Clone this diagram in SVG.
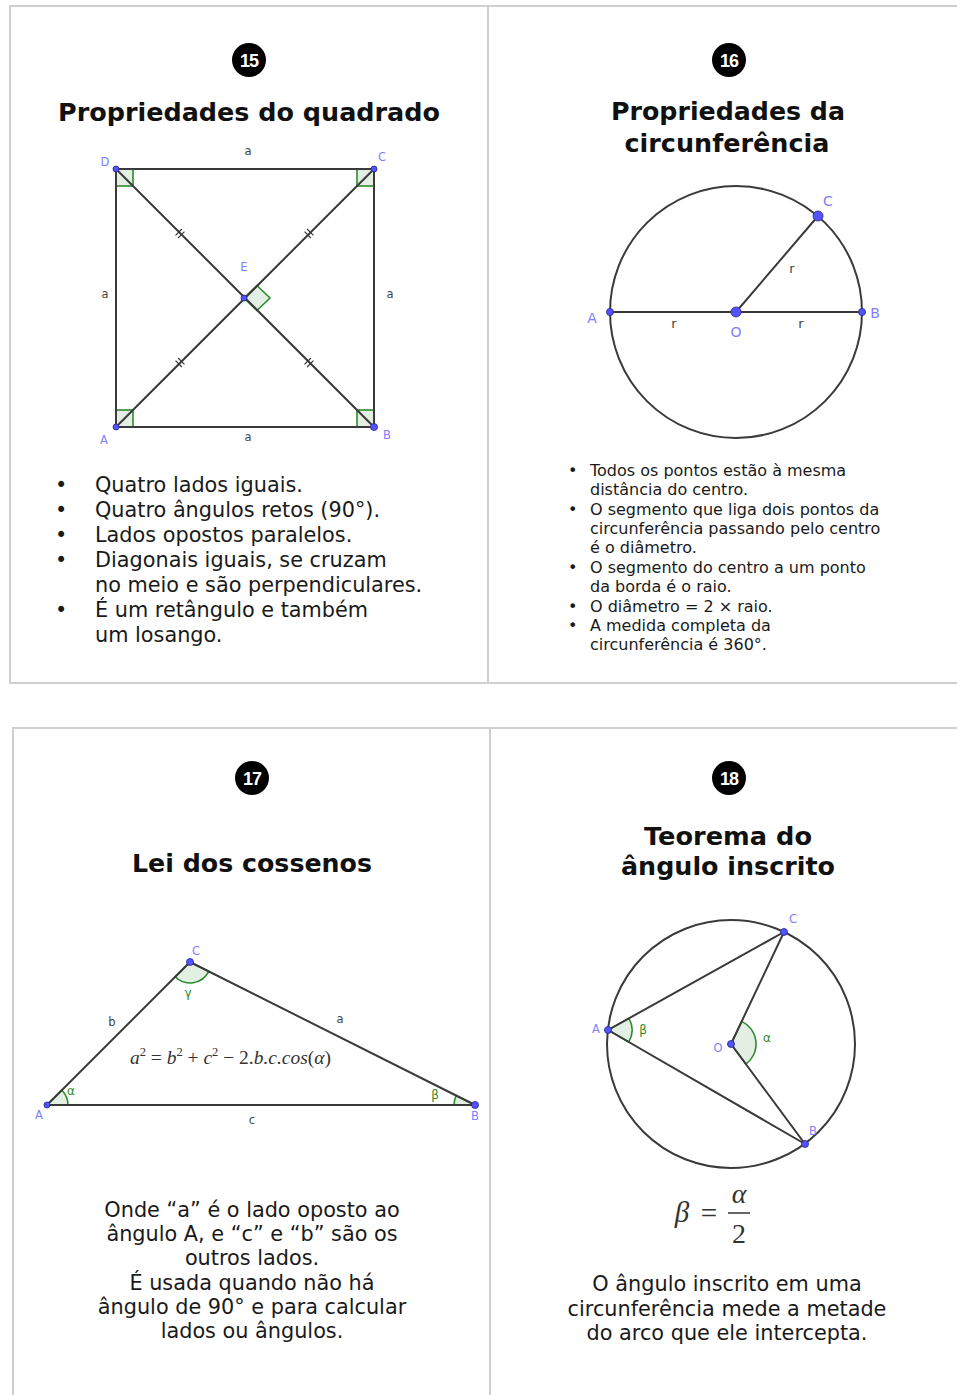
<svg xmlns="http://www.w3.org/2000/svg" xmlns:xlink="http://www.w3.org/1999/xlink" width="957" height="1395" viewBox="0 0 957 1395">
<style>
.frame{fill:none;stroke:#cfcfcf;stroke-width:2}
.badge{fill:#000}
.badgeNum{font-family:"Liberation Sans",Arial,sans-serif;font-weight:bold;font-size:18px;fill:#fff;text-anchor:middle;letter-spacing:-1px}
.title{font-family:"DejaVu Sans",Verdana,sans-serif;font-weight:bold;font-size:25.5px;fill:#111;text-anchor:middle}
.body{font-family:"DejaVu Sans",Verdana,sans-serif;font-size:20.8px;fill:#1a1a1a}
.bodyC{font-family:"DejaVu Sans",Verdana,sans-serif;font-size:20.8px;fill:#1a1a1a;text-anchor:middle}
.small{font-family:"DejaVu Sans",Verdana,sans-serif;font-size:16px;fill:#1a1a1a}
.geo{fill:none;stroke:#3a3a3a;stroke-width:2;stroke-linecap:round}
.pt{fill:#5454ff;stroke:#22228a;stroke-width:0.8}
.plab{font-family:"DejaVu Sans",Arial,sans-serif;font-size:11.5px;fill:#8080ff;text-anchor:middle}
.slab{font-family:"DejaVu Sans",Arial,sans-serif;font-size:11.5px;fill:#444;text-anchor:middle}
.glab{font-family:"DejaVu Sans",Arial,sans-serif;font-size:12px;fill:#2e8b2e;text-anchor:middle}
.ang{fill:#e3efe3;stroke:#2e8b2e;stroke-width:1.6}
.tick{stroke:#3a3a3a;stroke-width:1.2}
.math{font-family:"Liberation Serif","Times New Roman",serif;fill:#333}
</style>
<defs>
<g id="tick"><line class="tick" x1="-1.8" y1="-4.5" x2="-1.8" y2="4.5"/><line class="tick" x1="1.8" y1="-4.5" x2="1.8" y2="4.5"/></g>
</defs>
<rect width="957" height="1395" fill="#fff"/>

<g id="frames">
<rect class="frame" x="10" y="6" width="960" height="677"/>
<line class="frame" x1="488" y1="6" x2="488" y2="683"/>
<rect class="frame" x="13" y="728" width="960" height="700"/>
<line class="frame" x1="490" y1="728" x2="490" y2="1395"/>
</g>

<g id="card15">
<circle class="badge" cx="249" cy="60" r="17"/>
<text class="badgeNum" x="249" y="66.5">15</text>
<text class="title" x="249" y="121" textLength="382" lengthAdjust="spacingAndGlyphs">Propriedades do quadrado</text>
<rect class="ang" x="116" y="169" width="17" height="17"/>
<rect class="ang" x="357" y="169" width="17" height="17"/>
<rect class="ang" x="116" y="410" width="17" height="17"/>
<rect class="ang" x="357" y="410" width="17" height="17"/>
<polygon class="ang" points="244,298 257,285.5 270,298 257,310.5"/>
<rect class="geo" x="116" y="169" width="258" height="258"/>
<line class="geo" x1="116" y1="169" x2="374" y2="427" stroke-width="1.8"/>
<line class="geo" x1="116" y1="427" x2="374" y2="169" stroke-width="1.8"/>
<use xlink:href="#tick" href="#tick" transform="translate(180,233.5) rotate(45)"/>
<use xlink:href="#tick" href="#tick" transform="translate(309,233.5) rotate(-45)"/>
<use xlink:href="#tick" href="#tick" transform="translate(180,362.5) rotate(-45)"/>
<use xlink:href="#tick" href="#tick" transform="translate(309,362.5) rotate(45)"/>
<circle class="pt" cx="116" cy="169" r="3"/>
<circle class="pt" cx="374" cy="169" r="3"/>
<circle class="pt" cx="116" cy="427" r="3"/>
<circle class="pt" cx="374" cy="427" r="3.5"/>
<circle class="pt" cx="244" cy="298" r="3"/>
<text class="slab" x="248" y="155">a</text>
<text class="slab" x="105" y="298">a</text>
<text class="slab" x="390" y="298">a</text>
<text class="slab" x="248" y="441">a</text>
<text class="plab" x="105" y="166">D</text>
<text class="plab" x="382" y="161">C</text>
<text class="plab" x="244" y="271">E</text>
<text class="plab" x="104" y="444">A</text>
<text class="plab" x="387" y="439">B</text>
<g class="body">
<text x="55" y="492">•</text><text x="95" y="492">Quatro lados iguais.</text>
<text x="55" y="517">•</text><text x="95" y="517">Quatro ângulos retos (90°).</text>
<text x="55" y="542">•</text><text x="95" y="542">Lados opostos paralelos.</text>
<text x="55" y="567">•</text><text x="95" y="567">Diagonais iguais, se cruzam</text>
<text x="95" y="592">no meio e são perpendiculares.</text>
<text x="55" y="617">•</text><text x="95" y="617">É um retângulo e também</text>
<text x="95" y="642">um losango.</text>
</g>
</g>

<g id="card16">
<circle class="badge" cx="729" cy="60" r="17"/>
<text class="badgeNum" x="729" y="66.5">16</text>
<text class="title" x="728" y="120" textLength="234" lengthAdjust="spacingAndGlyphs">Propriedades da</text>
<text class="title" x="727" y="152" textLength="205" lengthAdjust="spacingAndGlyphs">circunferência</text>
<circle class="geo" cx="736" cy="312" r="126"/>
<line class="geo" x1="610" y1="312" x2="862" y2="312"/>
<line class="geo" x1="736" y1="312" x2="818" y2="216"/>
<circle class="pt" cx="610" cy="312" r="3.5"/>
<circle class="pt" cx="862" cy="312" r="3.5"/>
<circle class="pt" cx="736" cy="312" r="5"/>
<circle class="pt" cx="818" cy="216" r="5"/>
<text class="plab" x="592" y="323" style="font-size:14px">A</text>
<text class="plab" x="875" y="318" style="font-size:14px">B</text>
<text class="plab" x="828" y="206" style="font-size:14px">C</text>
<text class="plab" x="736" y="337" style="font-size:14px">O</text>
<text class="slab" x="674" y="328" style="font-size:13px">r</text>
<text class="slab" x="801" y="328" style="font-size:13px">r</text>
<text class="slab" x="792" y="273" style="font-size:13px">r</text>
<g class="small">
<text x="568" y="476">•</text><text x="590" y="476">Todos os pontos estão à mesma</text>
<text x="590" y="495">distância do centro.</text>
<text x="568" y="515">•</text><text x="590" y="515">O segmento que liga dois pontos da</text>
<text x="590" y="534">circunferência passando pelo centro</text>
<text x="590" y="553">é o diâmetro.</text>
<text x="568" y="573">•</text><text x="590" y="573">O segmento do centro a um ponto</text>
<text x="590" y="592">da borda é o raio.</text>
<text x="568" y="612">•</text><text x="590" y="612">O diâmetro = 2 × raio.</text>
<text x="568" y="631">•</text><text x="590" y="631">A medida completa da</text>
<text x="590" y="650">circunferência é 360°.</text>
</g>
</g>

<g id="card17">
<circle class="badge" cx="252" cy="778" r="17"/>
<text class="badgeNum" x="252" y="784.5">17</text>
<text class="title" x="252" y="872" textLength="240" lengthAdjust="spacingAndGlyphs">Lei dos cossenos</text>
<path class="ang" d="M47,1105 L68,1105 A21,21 0 0 0 61.8,1090.2 Z"/>
<path class="ang" d="M475,1105 L454,1105 A21,21 0 0 1 456.2,1095.6 Z"/>
<path class="ang" d="M190,962 L208.8,971.4 A21,21 0 0 1 175.2,976.8 Z"/>
<polygon class="geo" points="47,1105 475,1105 190,962" stroke-linejoin="round"/>
<circle class="pt" cx="47" cy="1105" r="3"/>
<circle class="pt" cx="475" cy="1105" r="3.5"/>
<circle class="pt" cx="190" cy="962" r="3.5"/>
<text class="plab" x="196" y="955">C</text>
<text class="plab" x="39" y="1119">A</text>
<text class="plab" x="475" y="1120">B</text>
<text class="slab" x="112" y="1026">b</text>
<text class="slab" x="340" y="1023">a</text>
<text class="slab" x="252" y="1124">c</text>
<text class="glab" x="71" y="1095">α</text>
<text class="glab" x="435" y="1099">β</text>
<text class="glab" x="188" y="997">γ</text>
<text class="math" x="130" y="1064" font-size="19.5" textLength="201" lengthAdjust="spacingAndGlyphs"><tspan font-style="italic">a</tspan><tspan dy="-8" font-size="12.5">2</tspan><tspan dy="8"> = </tspan><tspan font-style="italic">b</tspan><tspan dy="-8" font-size="12.5">2</tspan><tspan dy="8"> + </tspan><tspan font-style="italic">c</tspan><tspan dy="-8" font-size="12.5">2</tspan><tspan dy="8"> − 2.</tspan><tspan font-style="italic">b.c.cos</tspan>(<tspan font-style="italic">α</tspan>)</text>
<g class="bodyC">
<text x="252" y="1217">Onde “a” é o lado oposto ao</text>
<text x="252" y="1241">ângulo A, e “c” e “b” são os</text>
<text x="252" y="1265">outros lados.</text>
<text x="252" y="1290">É usada quando não há</text>
<text x="252" y="1314">ângulo de 90° e para calcular</text>
<text x="252" y="1338">lados ou ângulos.</text>
</g>
</g>

<g id="card18">
<circle class="badge" cx="729" cy="778" r="17"/>
<text class="badgeNum" x="729" y="784.5">18</text>
<text class="title" x="728" y="845" textLength="168" lengthAdjust="spacingAndGlyphs">Teorema do</text>
<text class="title" x="728" y="875" textLength="214" lengthAdjust="spacingAndGlyphs">ângulo inscrito</text>
<path class="ang" d="M608,1030 L629,1018.3 A24,24 0 0 1 628.8,1042 Z"/>
<path class="ang" d="M731,1044 L741.7,1021.4 A25,25 0 0 1 745.9,1064.1 Z"/>
<circle class="geo" cx="731" cy="1044" r="124"/>
<line class="geo" x1="608" y1="1030" x2="784" y2="932"/>
<line class="geo" x1="608" y1="1030" x2="805" y2="1144"/>
<line class="geo" x1="731" y1="1044" x2="784" y2="932"/>
<line class="geo" x1="731" y1="1044" x2="805" y2="1144"/>
<circle class="pt" cx="608" cy="1030" r="3.5"/>
<circle class="pt" cx="784" cy="932" r="3.5"/>
<circle class="pt" cx="805" cy="1144" r="3.5"/>
<circle class="pt" cx="731" cy="1044" r="3.5"/>
<text class="plab" x="793" y="923">C</text>
<text class="plab" x="596" y="1033">A</text>
<text class="plab" x="813" y="1135">B</text>
<text class="plab" x="718" y="1052">O</text>
<text class="glab" x="643" y="1034">β</text>
<text class="glab" x="767" y="1042">α</text>
<text class="math" x="682" y="1222" font-size="29" font-style="italic" text-anchor="middle">β</text>
<text class="math" x="709" y="1223" font-size="29" text-anchor="middle">=</text>
<text class="math" x="739" y="1203" font-size="28" font-style="italic" text-anchor="middle">α</text>
<line x1="728" y1="1213" x2="750" y2="1213" stroke="#333" stroke-width="1.5"/>
<text class="math" x="739" y="1243" font-size="28" text-anchor="middle">2</text>
<g class="bodyC">
<text x="727" y="1291">O ângulo inscrito em uma</text>
<text x="727" y="1316">circunferência mede a metade</text>
<text x="727" y="1340">do arco que ele intercepta.</text>
</g>
</g>
</svg>
